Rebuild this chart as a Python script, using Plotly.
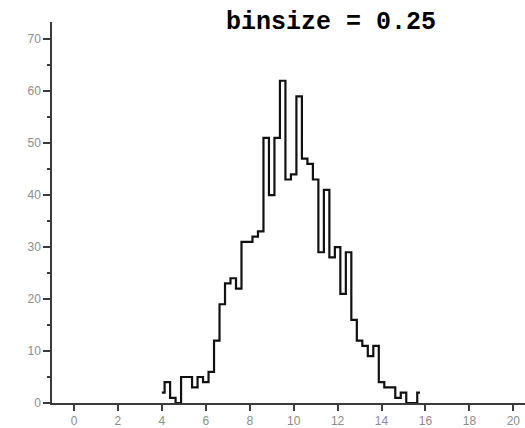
import plotly.graph_objects as go

# Histogram of the sample with bins of width 0.25
bin_start = 4.0
bin_width = 0.25
counts = [2, 4, 1, 0, 5, 5, 3, 5, 4, 6,
          12, 19, 23, 24, 22, 31, 31, 32, 33, 51,
          40, 51, 62, 43, 44, 59, 47, 46, 43, 29,
          41, 28, 30, 21, 29, 16, 12, 11, 9, 11,
          4, 3, 3, 1, 2, 0, 0, 2]
bin_pos = [bin_start + i * bin_width for i in range(len(counts))]

x_ticks = [0, 2, 4, 6, 8, 10, 12, 14, 16, 18, 20]
y_ticks = [0, 10, 20, 30, 40, 50, 60, 70]

fig = go.Figure()
fig.add_trace(go.Scatter(
    x=bin_pos, y=counts, mode="lines",
    line=dict(shape="hvh", color="#111111", width=2.2),
    showlegend=False, hoverinfo="x+y",
))

axis_color = "#3a3a3a"
tick_font = dict(family="Liberation Sans, Arial, sans-serif", size=12, color="#8c8c8c")

fig.update_xaxes(
    range=[-1.0, 20.53], showline=True, linecolor=axis_color, linewidth=1.5,
    ticks="outside", ticklen=6, tickwidth=1.5, tickcolor=axis_color,
    tickvals=x_ticks, ticktext=[str(v) for v in x_ticks],
    tickfont=tick_font, showgrid=False, zeroline=False,
)
fig.update_yaxes(
    range=[0, 73.3], showline=True, linecolor=axis_color, linewidth=1.5,
    ticks="outside", ticklen=7, tickwidth=1.5, tickcolor=axis_color,
    tickvals=y_ticks, ticktext=[str(v) for v in y_ticks],
    tickfont=tick_font, showgrid=False, zeroline=False,
    minor=dict(dtick=5, tick0=0, ticks="outside", ticklen=3, tickwidth=1.5,
               tickcolor=axis_color, showgrid=False),
)

fig.add_annotation(
    text="<b>binsize = 0.25</b>", xref="paper", yref="paper",
    x=0.59, y=1.0, xanchor="center", yanchor="middle", showarrow=False,
    font=dict(family="Liberation Mono, Courier New, monospace", size=25, color="#000000"),
)

fig.update_layout(
    width=525, height=428, autosize=False,
    margin=dict(l=52, r=0, t=22, b=25),
    plot_bgcolor="white", paper_bgcolor="white",
)

fig.write_html("out.html")
